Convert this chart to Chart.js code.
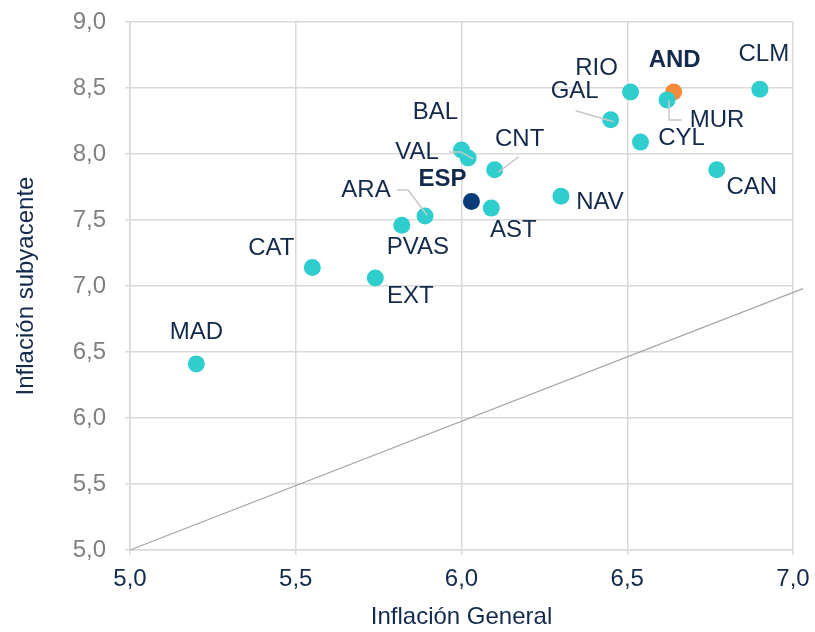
<!DOCTYPE html>
<html>
<head>
<meta charset="utf-8">
<script src="https://cdn.jsdelivr.net/npm/chart.js@4"></script>
<style>
  html, body { margin: 0; padding: 0; background: #fff; }
  #wrap { width: 815px; height: 632px; }
</style>
</head>
<body>
<div id="wrap"><canvas id="myChart" width="815" height="632"></canvas></div>
<script>
// data
const regions = ['MAD','CAT','EXT','PVAS','ARA','BAL','VAL','ESP','CNT','AST','NAV','GAL','RIO','CYL','AND','MUR','CAN','CLM'];
const inflGeneral = [5.20, 5.55, 5.74, 5.82, 5.89, 6.00, 6.02, 6.03, 6.10, 6.09, 6.30, 6.45, 6.51, 6.54, 6.64, 6.62, 6.77, 6.90];
const inflCore    = [6.41, 7.14, 7.06, 7.46, 7.53, 8.03, 7.97, 7.64, 7.88, 7.59, 7.68, 8.26, 8.47, 8.09, 8.47, 8.41, 7.88, 8.49];
// reference line (roughly y = x)
const refLineX = [5.0, 7.03];
const refLineY = [5.0, 6.98];
const xTicks = [5.0, 5.5, 6.0, 6.5, 7.0];
const yTicks = [5.0, 5.5, 6.0, 6.5, 7.0, 7.5, 8.0, 8.5, 9.0];

const navy = '#142a4c';
const cyan = '#2fcdcd';
const gridCol = '#d9d9d9';
const font = '"Liberation Sans", Arial, sans-serif';

// label placement (pixel offset from the dot) and leader lines
const labelPos = {
    MAD: [0, -32], CAT: [-41, -19], EXT: [35, 18], PVAS: [16, 22],
    ARA: [-59, -26], BAL: [-26, -38], VAL: [-51, -6], ESP: [-29, -22],
    CNT: [25, -30], AST: [22, 22], NAV: [39, 6], GAL: [-36, -28],
    RIO: [-34, -24], CYL: [41, -4], AND: [1, -32], MUR: [50, 20],
    CAN: [35, 18], CLM: [4, -35]
};
const leaders = {
    ARA: [[-28, -26], [-17, -26], [2, -1]],
    VAL: [[-19, -6], [-7, -6], [5, 1]],
    CNT: [[24, -13], [4, 2]],
    GAL: [[-35, -9], [3, 2]],
    MUR: [[2, 0], [2, 20], [15, 20]]
};
const boldLabels = ['ESP', 'AND'];

function pointColor(name) {
    if (name === 'ESP') return '#0b3c7a';
    if (name === 'AND') return '#f7893b';
    return cyan;
}

const fmt = v => Number(v).toFixed(1).replace('.', ',');

const labelPlugin = {
    id: 'regionLabels',
    afterDatasetsDraw(chart) {
        const ctx = chart.ctx;
        const meta = chart.getDatasetMeta(1);
        ctx.save();
        meta.data.forEach((pt, i) => {
            const name = regions[i];
            const lead = leaders[name];
            if (lead) {
                ctx.beginPath();
                ctx.strokeStyle = '#c8c8c8';
                ctx.lineWidth = 1.5;
                lead.forEach((p, j) => {
                    if (j === 0) ctx.moveTo(pt.x + p[0], pt.y + p[1]);
                    else ctx.lineTo(pt.x + p[0], pt.y + p[1]);
                });
                ctx.stroke();
            }
            const off = labelPos[name];
            ctx.font = (boldLabels.includes(name) ? 'bold ' : '') + '24px ' + font;
            ctx.fillStyle = navy;
            ctx.textAlign = 'center';
            ctx.textBaseline = 'middle';
            ctx.fillText(name, pt.x + off[0], pt.y + off[1]);
        });
        ctx.restore();
    }
};

const data = {
    datasets: [{
        type: 'line',
        data: refLineX.map((v, i) => ({ x: v, y: refLineY[i] })),
        borderColor: '#a6a6a6',
        borderWidth: 1.3,
        pointRadius: 0,
        fill: false,
        clip: false,
        order: 2
    }, {
        type: 'scatter',
        data: regions.map((r, i) => ({ x: inflGeneral[i], y: inflCore[i] })),
        backgroundColor: regions.map(pointColor),
        borderWidth: 0,
        pointRadius: 8.5,
        pointHoverRadius: 8.5,
        order: 1
    }]
};

const config = {
    type: 'scatter',
    data: data,
    options: {
        responsive: false,
        animation: false,
        layout: { padding: { top: 22, right: 22, left: 0, bottom: 0 } },
        plugins: { legend: { display: false }, tooltip: { enabled: false } },
        scales: {
            x: {
                type: 'linear',
                min: 5, max: 7,
                afterBuildTicks: s => { s.ticks = xTicks.map(v => ({ value: v })); },
                afterFit: s => { s.height = 82; s.paddingLeft = 0; s.paddingRight = 0; },
                grid: { color: gridCol, lineWidth: 1.5, tickLength: 5 },
                border: { color: gridCol, width: 1.5 },
                ticks: { callback: fmt, color: navy, padding: 10, font: { family: font, size: 24 } },
                title: { display: true, text: 'Inflación General', color: navy, padding: { top: 4, bottom: 0 }, font: { family: font, size: 24 } }
            },
            y: {
                type: 'linear',
                min: 5, max: 9,
                afterBuildTicks: s => { s.ticks = yTicks.map(v => ({ value: v })); },
                afterFit: s => { s.width = 130; s.paddingTop = 0; s.paddingBottom = 0; },
                grid: { color: gridCol, lineWidth: 1.5, tickLength: 5 },
                border: { color: gridCol, width: 1.5 },
                ticks: { callback: fmt, color: '#808080', padding: 19, font: { family: font, size: 24 } },
                title: { display: true, text: 'Inflación subyacente', color: navy, padding: { top: 12, bottom: 0 }, font: { family: font, size: 24 } }
            }
        }
    },
    plugins: [labelPlugin]
};

const myChart = new Chart(document.getElementById('myChart'), config);
</script>
</body>
</html>
